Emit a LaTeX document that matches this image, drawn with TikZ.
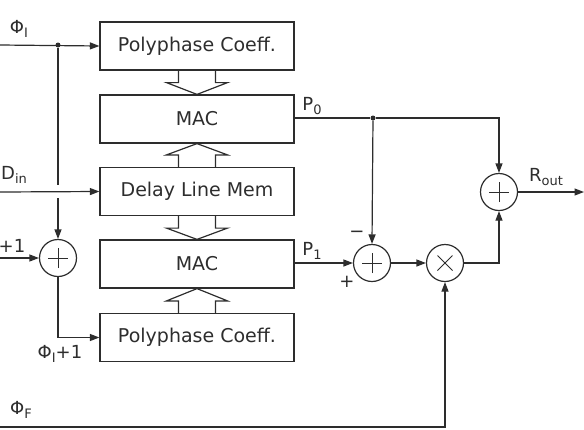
\documentclass[tikz,border=0pt]{standalone}
\usepackage{fontspec}
\setmainfont{DejaVu Sans}
\usetikzlibrary{arrows.meta,calc}
\definecolor{ink}{RGB}{45,45,45}
\newcommand\mysub[1]{\raisebox{-3.5pt}{\fontsize{13}{13}\selectfont #1}}
\newcommand\hollowarr[3]{%
  \draw[wire] ($(#1)+(-18.5,0)$) -- ++(0,12*#3) -- ++(-12,0) -- (#2)
    -- ($(#1)+(30.5,12*#3)$) -- ++(-12,0) -- ($(#1)+(18.5,0)$);}
\begin{document}
\begin{tikzpicture}[x=1pt,y=-1pt,
  box/.style={draw=ink, line width=1.2pt, minimum width=194pt, minimum height=48pt,
    inner sep=0pt, font=\fontsize{19}{21}\selectfont, text=ink},
  sumnode/.style={circle, draw=ink, line width=1.2pt, minimum size=37pt, inner sep=0pt,
    path picture={\draw[ink, line width=1pt]
      ($(path picture bounding box.center)+(-10pt,0pt)$) -- ++(20pt,0pt)
      ($(path picture bounding box.center)+(0pt,-10pt)$) -- ++(0pt,20pt);}},
  mulnode/.style={circle, draw=ink, line width=1.2pt, minimum size=37pt, inner sep=0pt,
    path picture={\draw[ink, line width=1pt]
      ($(path picture bounding box.center)+(-7.5pt,-7.5pt)$) -- ++(15pt,15pt)
      ($(path picture bounding box.center)+(-7.5pt,7.5pt)$) -- ++(15pt,-15pt);}},
  lbl/.style={text=ink, font=\fontsize{18}{20}\selectfont, inner sep=0pt},
  wire/.style={draw=ink, line width=1.2pt},
  arr/.style={draw=ink, line width=1.2pt, -{Triangle[length=9.5pt,width=7pt]}},
  dot/.style={circle, fill=ink, minimum size=5pt, inner sep=0pt}]
\useasboundingbox (0,0) rectangle (584,429);

% boxes
\node[box] (pc1)  at (197,46)    {Polyphase Coeff.};
\node[box] (mac1) at (197,119)   {MAC};
\node[box] (dlm)  at (197,191.5) {Delay Line Mem};
\node[box] (mac2) at (197,264)   {MAC};
\node[box] (pc2)  at (197,337.5) {Polyphase Coeff.};

% hollow arrows
\hollowarr{pc1.south}{mac1.north}{1}
\hollowarr{dlm.north}{mac1.south}{-1}
\hollowarr{dlm.south}{mac2.north}{1}
\hollowarr{pc2.north}{mac2.south}{-1}

% operators
\node[sumnode] (add1) at (58,258) {};
\node[sumnode] (sub)  at (372,263) {};
\node[mulnode] (mul)  at (445,263) {};
\node[sumnode] (add2) at (499,192) {};

% junctions and free ends
\node[dot] (j1) at (58,45) {};
\node[dot] (j2) at (373,118) {};
\coordinate (phiin) at (0,45);
\coordinate (din) at (0,192);
\coordinate (pone) at (0,258);
\coordinate (phif) at (0,427);
\coordinate (gapT) at (58,185);
\coordinate (gapB) at (58,198);
\coordinate (rout) at (584,192);

% connectors
\draw[arr] (phiin) -- (pc1.west);
\draw[wire] (j1) -- (gapT);
\draw[arr] (gapB) -- (add1.north);
\draw[arr] (din) -- (dlm.west);
\draw[arr] (pone) -- (add1.west);
\draw[arr] (add1.south) |- (pc2.west);
\draw[wire] (mac1.east |- j2) -- (j2);
\draw[arr] (j2) -- (sub.north);
\draw[arr] (j2) -| (add2.north);
\draw[arr] (mac2.east |- sub) -- (sub.west);
\draw[arr] (sub.east) -- (mul.west);
\draw[arr] (mul.east) -| (add2.south);
\draw[arr] (add2.east) -- (rout);
\draw[arr] (phif) -| (mul.south);

% labels
\node[lbl] (lphi) at (19,29) {Φ\mysub{I}};
\node[lbl] (ldin) at (14,175) {D\mysub{in}};
\node[lbl] (lone) at (12,246) {+1};
\node[lbl] (lphi1) at (60,354) {Φ\mysub{I}+1};
\node[lbl] (lphif) at (21,410) {Φ\mysub{F}};
\node[lbl] (lp0) at (312,106) {P\mysub{0}};
\node[lbl] (lp1) at (312,251) {P\mysub{1}};
\node[lbl] (lrout) at (546,177) {R\mysub{out}};
\node[lbl] (lminus) at (357,234) {−};
\node[lbl] (lplus) at (347,282) {+};
\end{tikzpicture}
\end{document}
